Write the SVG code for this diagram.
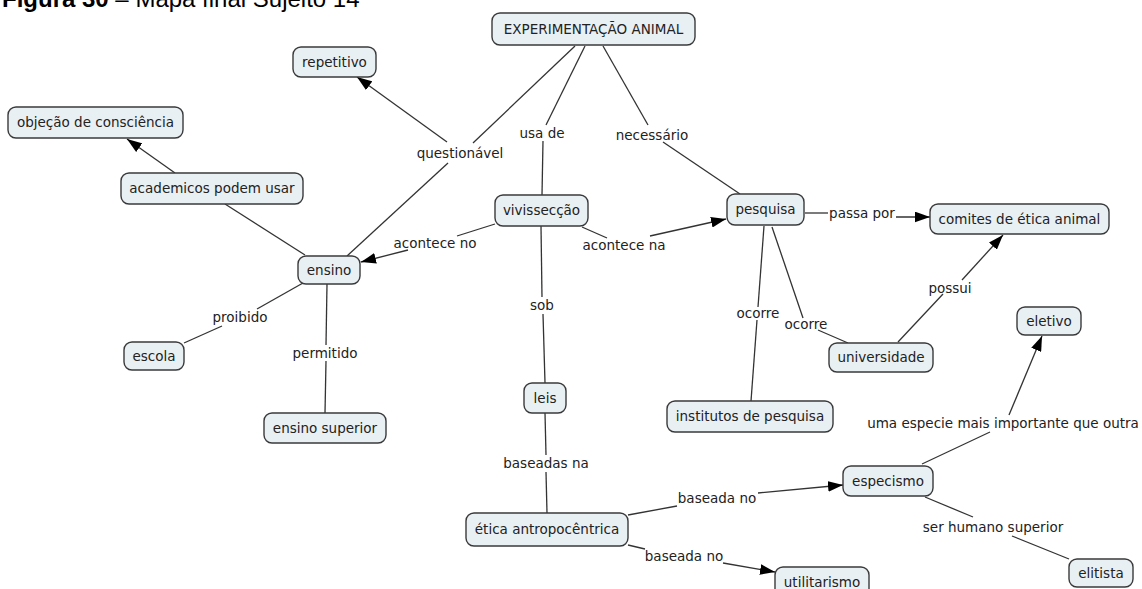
<svg xmlns="http://www.w3.org/2000/svg" width="1142" height="589" viewBox="0 0 1142 589">
<style>
.n rect{fill:#e9f0f4;stroke:#3a3a3a;stroke-width:1.4}
.n text,.lb{font-family:"DejaVu Sans",Verdana,sans-serif;font-size:13.5px;fill:#222;text-anchor:middle}
.c line{stroke:#333;stroke-width:1.3}
.c .a{marker-end:url(#ah)}
.t{font-family:"Liberation Sans",Arial,sans-serif;font-size:24px;fill:#000}
</style>
<defs>
<marker id="ah" markerUnits="userSpaceOnUse" markerWidth="15" markerHeight="11" refX="14" refY="5" orient="auto" viewBox="0 0 14 10">
<path d="M0,0 L14,5 L0,10 z" fill="#000"/>
</marker>
</defs>
<rect width="1142" height="589" fill="#fff"/>
<text class="t" x="2" y="7"><tspan font-weight="bold">Figura 30</tspan> – Mapa final Sujeito 14</text>
<g class="c" id="connectors">
<line x1="575" y1="46" x2="473" y2="143"/>
<line x1="448" y1="163" x2="347" y2="256"/>
<line class="a" x1="447" y1="142" x2="357" y2="77"/>
<line x1="585" y1="46" x2="546" y2="125"/>
<line x1="543" y1="141" x2="542" y2="195"/>
<line x1="603" y1="46" x2="648" y2="125"/>
<line x1="663" y1="142" x2="740" y2="194"/>
<line x1="305" y1="255" x2="225" y2="204"/>
<line class="a" x1="175" y1="173" x2="127" y2="139"/>
<line x1="495" y1="224" x2="457" y2="236"/>
<line class="a" x1="408" y1="250" x2="361" y2="262"/>
<line x1="582" y1="227" x2="607" y2="238"/>
<line class="a" x1="650" y1="236" x2="726" y2="219"/>
<line x1="541" y1="226" x2="542" y2="297"/>
<line x1="543" y1="314" x2="545" y2="383"/>
<line x1="545" y1="413" x2="546" y2="455"/>
<line x1="546" y1="472" x2="547" y2="513"/>
<line x1="628" y1="515" x2="677" y2="506"/>
<line class="a" x1="758" y1="493" x2="843" y2="485"/>
<line x1="628" y1="545" x2="645" y2="549"/>
<line class="a" x1="723" y1="563" x2="775" y2="572"/>
<line x1="303" y1="283" x2="257" y2="309"/>
<line x1="222" y1="326" x2="184" y2="343"/>
<line x1="327" y1="284" x2="326" y2="345"/>
<line x1="326" y1="361" x2="325" y2="413"/>
<line x1="805" y1="213" x2="828" y2="213"/>
<line class="a" x1="896" y1="217" x2="930" y2="217"/>
<line x1="764" y1="226" x2="758" y2="307"/>
<line x1="757" y1="320" x2="751" y2="401"/>
<line x1="772" y1="227" x2="803" y2="318"/>
<line x1="818" y1="330" x2="848" y2="343"/>
<line x1="898" y1="342" x2="943" y2="294"/>
<line class="a" x1="962" y1="280" x2="1003" y2="235"/>
<line x1="922" y1="464" x2="990" y2="432"/>
<line class="a" x1="1009" y1="415" x2="1042" y2="336"/>
<line x1="925" y1="497" x2="973" y2="517"/>
<line x1="1012" y1="536" x2="1069" y2="559"/>
</g>
<g id="labels">
<text class="lb" x="460" y="158">questionável</text>
<text class="lb" x="542" y="138">usa de</text>
<text class="lb" x="652" y="140">necessário</text>
<text class="lb" x="435" y="248">acontece no</text>
<text class="lb" x="624" y="250">acontece na</text>
<text class="lb" x="862" y="218">passa por</text>
<text class="lb" x="950" y="293">possui</text>
<text class="lb" x="758" y="318">ocorre</text>
<text class="lb" x="806" y="329">ocorre</text>
<text class="lb" x="240" y="322">proibido</text>
<text class="lb" x="325" y="358">permitido</text>
<text class="lb" x="542" y="310">sob</text>
<text class="lb" x="546" y="468">baseadas na</text>
<text class="lb" x="717" y="503">baseada no</text>
<text class="lb" x="684" y="561">baseada no</text>
<text class="lb" x="1003" y="428">uma especie mais importante que outra</text>
<text class="lb" x="993" y="532">ser humano superior</text>
</g>
<g class="n" id="n-experimentacao"><rect x="492" y="13" width="203" height="32" rx="8"/><text x="593.5" y="33.5">EXPERIMENTAÇÃO ANIMAL</text></g>
<g class="n" id="n-repetitivo"><rect x="293" y="47" width="83" height="30" rx="8"/><text x="334.5" y="66.5">repetitivo</text></g>
<g class="n" id="n-objecao"><rect x="8" y="107" width="175" height="31" rx="8"/><text x="95.5" y="127">objeção de consciência</text></g>
<g class="n" id="n-academicos"><rect x="121" y="173" width="182" height="31" rx="8"/><text x="212" y="193">academicos podem usar</text></g>
<g class="n" id="n-ensino"><rect x="298" y="256" width="62" height="28" rx="8"/><text x="329" y="274.5">ensino</text></g>
<g class="n" id="n-escola"><rect x="124" y="342" width="60" height="28" rx="8"/><text x="154" y="360.5">escola</text></g>
<g class="n" id="n-ensino-superior"><rect x="264" y="413" width="122" height="30" rx="8"/><text x="325" y="432.5">ensino superior</text></g>
<g class="n" id="n-vivisseccao"><rect x="495" y="195" width="93" height="31" rx="8"/><text x="541.5" y="215">vivissecção</text></g>
<g class="n" id="n-pesquisa"><rect x="727" y="194" width="77" height="31" rx="8"/><text x="765.5" y="214">pesquisa</text></g>
<g class="n" id="n-comites"><rect x="930" y="204" width="179" height="30" rx="8"/><text x="1019.5" y="223.5">comites de ética animal</text></g>
<g class="n" id="n-universidade"><rect x="829" y="343" width="104" height="29" rx="8"/><text x="881" y="362">universidade</text></g>
<g class="n" id="n-institutos"><rect x="667" y="401" width="166" height="31" rx="8"/><text x="750" y="421">institutos de pesquisa</text></g>
<g class="n" id="n-eletivo"><rect x="1017" y="307" width="64" height="28" rx="8"/><text x="1049" y="325.5">eletivo</text></g>
<g class="n" id="n-leis"><rect x="524" y="383" width="42" height="30" rx="8"/><text x="545" y="402.5">leis</text></g>
<g class="n" id="n-etica"><rect x="466" y="513" width="162" height="33" rx="8"/><text x="547" y="534">ética antropocêntrica</text></g>
<g class="n" id="n-especismo"><rect x="843" y="466" width="90" height="30" rx="8"/><text x="888" y="485.5">especismo</text></g>
<g class="n" id="n-elitista"><rect x="1069" y="559" width="64" height="28" rx="8"/><text x="1101" y="577.5">elitista</text></g>
<g class="n" id="n-utilitarismo"><rect x="775" y="567" width="94" height="30" rx="8"/><text x="822" y="586.5">utilitarismo</text></g>
</svg>
